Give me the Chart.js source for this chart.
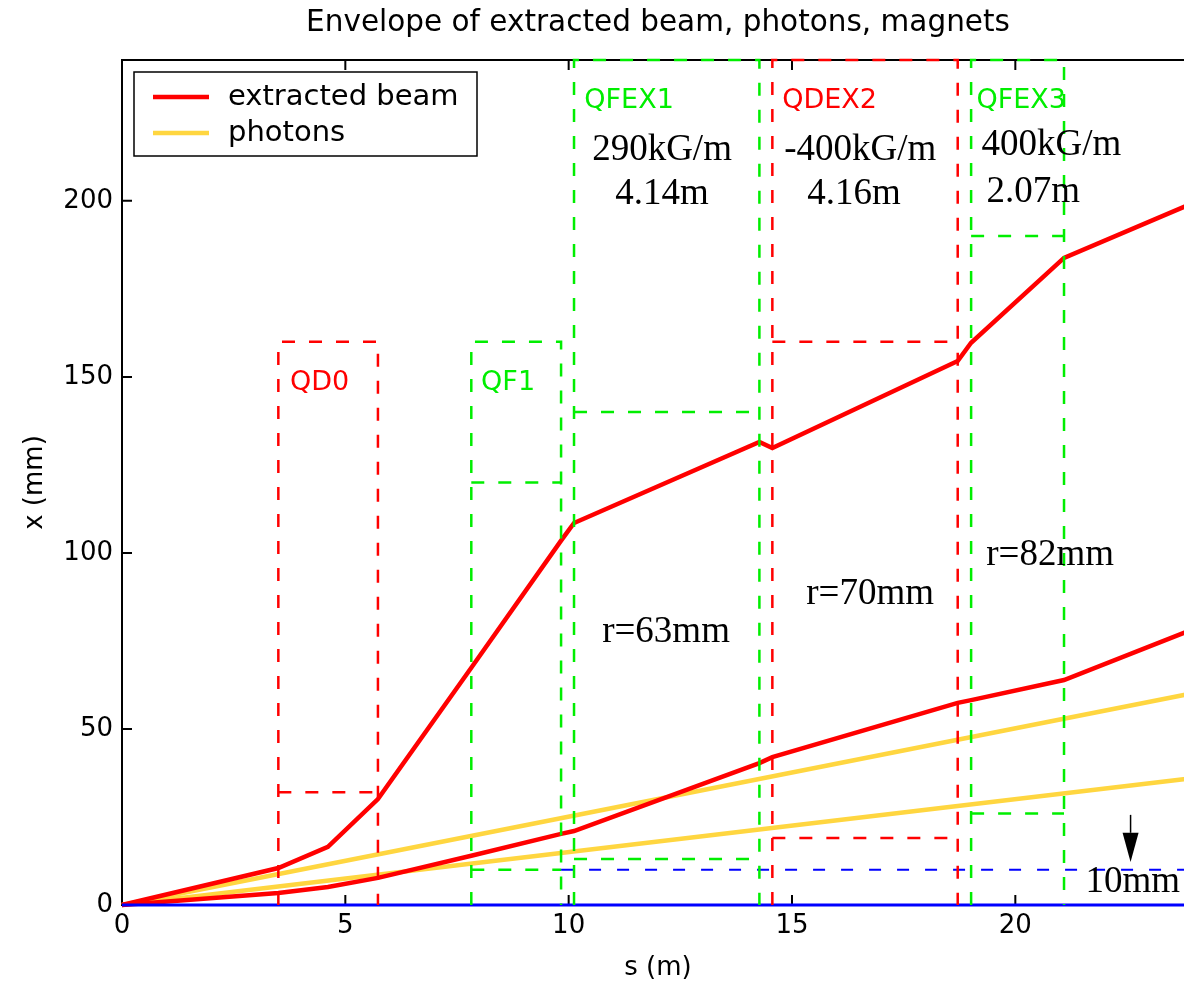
<!DOCTYPE html>
<html>
<head>
<meta charset="utf-8">
<script src="https://cdn.jsdelivr.net/npm/chart.js@4.4.0/dist/chart.umd.min.js"></script>
<style>
  html, body { margin: 0; padding: 0; overflow: hidden; background: #fff; }
  #wrap { width: 1184px; height: 988px; overflow: hidden; }
</style>
</head>
<body>
<div id="wrap"><canvas id="envelopeChart" width="1200" height="988"></canvas></div>
<script>
// beam envelope (s in m, x in mm)
const beamS     = [0, 3.5, 4.61, 5.73, 7.82, 9.83, 10.12, 14.27, 14.56, 18.71, 19.01, 21.09, 24];
const beamOuter = [0, 10.5, 16.5, 30.1, 67.4, 103.5, 108.5, 131.5, 129.8, 154.5, 159.7, 183.8, 199.5];
const beamInner = [0, 3.4, 5.1, 7.7, 14.0, 20.2, 21.0, 40.3, 42.0, 57.4, 58.2, 63.9, 78.4];

// photon fans
const photonS     = [0, 24];
const photonUpper = [0, 60.2];
const photonLower = [0, 36.1];

// magnets
const magNames    = ['QD0', 'QF1', 'QFEX1', 'QDEX2', 'QFEX3'];
const magStart    = [3.5, 7.82, 10.12, 14.56, 19.01];
const magEnd      = [5.73, 9.83, 14.27, 18.71, 21.09];
const magTop      = [160, 160, 240, 240, 240];
const magAperture = [[32], [120, 10], [140, 13.1], [160, 19], [190, 26]];
const magIsFocus  = [false, true, true, false, true];
const magLabelS   = [3.76, 8.04, 10.35, 14.78, 19.13];
const magLabelX   = [146.3, 146.3, 226.4, 226.4, 226.4];

// 10 mm reference
const refS = [9.83, 24];
const refX = [10, 10];

// annotations
const noteText = ['290kG/m', '4.14m', '-400kG/m', '4.16m', '400kG/m', '2.07m', 'r=63mm', 'r=70mm', 'r=82mm'];
const noteS    = [12.09, 12.09, 16.53, 16.39, 20.81, 20.40, 12.18, 16.75, 20.78];
const noteX    = [211.6, 199.1, 211.6, 199.1, 213.1, 199.7, 74.7, 85.5, 96.6];

const arrowS = 22.58, arrowFrom = 25.6, arrowHead = 20.5, arrowTo = 12.2;
const tenLabelS = 21.57, tenLabelX = 3.7;

const RED = '#ff0000', YELLOW = '#ffd640', GREEN = '#00ee00', BLUE = '#0000ff';
const SANS = 'DejaVu Sans', SERIF = 'Liberation Serif';

function pts(xs, ys) { return xs.map((v, i) => ({ x: v, y: ys[i] })); }

const datasets = [];
magNames.forEach((name, i) => {
  const col = magIsFocus[i] ? GREEN : RED;
  datasets.push({
    data: pts([magStart[i], magStart[i], magEnd[i], magEnd[i]], [0, magTop[i], magTop[i], 0]),
    borderColor: col, borderWidth: 2.5, borderDash: [13, 14], order: 0
  });
  magAperture[i].forEach(ap => {
    datasets.push({
      data: pts([magStart[i], magEnd[i]], [ap, ap]),
      borderColor: col, borderWidth: 2.5, borderDash: [13, 14], order: 0
    });
  });
});
datasets.push({ data: pts(refS, refX), borderColor: BLUE, borderWidth: 2, borderDash: [12, 16], order: 0 });
datasets.push({ label: 'extracted beam', data: pts(beamS, beamOuter), borderColor: RED, borderWidth: 4.5, order: 1 });
datasets.push({ data: pts(beamS, beamInner), borderColor: RED, borderWidth: 4.5, order: 1 });
datasets.push({ label: 'photons', data: pts(photonS, photonUpper), borderColor: YELLOW, borderWidth: 4.5, order: 2 });
datasets.push({ data: pts(photonS, photonLower), borderColor: YELLOW, borderWidth: 4.5, order: 2 });
datasets.push({ data: pts([0, 24], [0, 0]), borderColor: BLUE, borderWidth: 3, order: 0 });

datasets.forEach(d => { d.pointRadius = 0; d.fill = false; d.tension = 0; d.clip = false; });

const extrasPlugin = {
  id: 'extras',
  beforeDatasetsDraw(chart) {
    const { ctx, chartArea: a, scales: { x, y } } = chart;
    ctx.save();
    ctx.strokeStyle = '#000';
    ctx.lineWidth = 2;
    ctx.strokeRect(a.left, a.top, a.right - a.left, a.bottom - a.top);
    ctx.beginPath();
    x.ticks.forEach(t => {
      const px = x.getPixelForValue(t.value);
      ctx.moveTo(px, a.bottom); ctx.lineTo(px, a.bottom - 10);
      ctx.moveTo(px, a.top); ctx.lineTo(px, a.top + 10);
    });
    y.ticks.forEach(t => {
      const py = y.getPixelForValue(t.value);
      ctx.moveTo(a.left, py); ctx.lineTo(a.left + 10, py);
      ctx.moveTo(a.right, py); ctx.lineTo(a.right - 10, py);
    });
    ctx.stroke();
    ctx.restore();
  },
  afterDatasetsDraw(chart) {
    const { ctx, chartArea: a, scales: { x, y } } = chart;
    ctx.save();
    ctx.textBaseline = 'alphabetic';

    // magnet names
    ctx.font = '27px "' + SANS + '"';
    ctx.textAlign = 'left';
    magNames.forEach((n, i) => {
      ctx.fillStyle = magIsFocus[i] ? GREEN : RED;
      ctx.fillText(n, x.getPixelForValue(magLabelS[i]), y.getPixelForValue(magLabelX[i]));
    });

    // serif notes
    ctx.fillStyle = '#000';
    ctx.font = '37px "' + SERIF + '"';
    ctx.textAlign = 'center';
    noteText.forEach((t, i) => {
      ctx.fillText(t, x.getPixelForValue(noteS[i]), y.getPixelForValue(noteX[i]));
    });
    ctx.textAlign = 'left';
    ctx.fillText('10mm', x.getPixelForValue(tenLabelS), y.getPixelForValue(tenLabelX));

    // arrow
    const ax = x.getPixelForValue(arrowS);
    ctx.strokeStyle = '#000';
    ctx.lineWidth = 1.5;
    ctx.beginPath();
    ctx.moveTo(ax, y.getPixelForValue(arrowFrom));
    ctx.lineTo(ax, y.getPixelForValue(arrowHead));
    ctx.stroke();
    ctx.beginPath();
    ctx.moveTo(ax - 8, y.getPixelForValue(arrowHead));
    ctx.lineTo(ax + 8, y.getPixelForValue(arrowHead));
    ctx.lineTo(ax, y.getPixelForValue(arrowTo));
    ctx.closePath();
    ctx.fill();

    // legend
    const lx = a.left + 12, ly = a.top + 12;
    ctx.fillStyle = '#fff';
    ctx.fillRect(lx, ly, 343, 84);
    ctx.strokeStyle = '#000';
    ctx.lineWidth = 1.5;
    ctx.strokeRect(lx, ly, 343, 84);
    const items = chart.data.datasets.filter(d => d.label);
    ctx.font = '29px "' + SANS + '"';
    ctx.textBaseline = 'middle';
    items.forEach((d, i) => {
      const yy = ly + 25 + i * 36;
      ctx.strokeStyle = d.borderColor;
      ctx.lineWidth = d.borderWidth;
      ctx.beginPath();
      ctx.moveTo(lx + 19, yy); ctx.lineTo(lx + 75, yy);
      ctx.stroke();
      ctx.fillStyle = '#000';
      ctx.fillText(d.label, lx + 94, yy);
    });

    // title
    ctx.font = '29.5px "' + SANS + '"';
    ctx.textAlign = 'center';
    ctx.fillText('Envelope of extracted beam, photons, magnets', (a.left + a.right) / 2, 23);
    ctx.restore();
  }
};

const tickFont = { family: SANS, size: 26 };

new Chart(document.getElementById('envelopeChart').getContext('2d'), {
  type: 'line',
  data: { datasets: datasets },
  options: {
    responsive: false,
    animation: false,
    events: [],
    layout: { padding: { top: 60, right: 6, left: 0, bottom: 0 } },
    plugins: { legend: { display: false }, tooltip: { enabled: false }, title: { display: false } },
    scales: {
      x: {
        type: 'linear', min: 0, max: 24,
        grid: { display: false, drawTicks: false },
        border: { display: false },
        ticks: { stepSize: 5, includeBounds: false, padding: 6, color: '#000', font: tickFont, maxRotation: 0 },
        title: { display: true, text: 's (m)', color: '#000', font: tickFont, padding: { top: 0, bottom: 4 } },
        afterFit(scale) { scale.height = 83; }
      },
      y: {
        type: 'linear', min: 0, max: 240,
        grid: { display: false, drawTicks: false },
        border: { display: false },
        ticks: { stepSize: 50, includeBounds: false, padding: 9, color: '#000', font: tickFont },
        title: { display: true, text: 'x (mm)', color: '#000', font: tickFont, padding: { top: 20, bottom: 0 } },
        afterFit(scale) { scale.width = 122; }
      }
    }
  },
  plugins: [extrasPlugin]
});
</script>
</body>
</html>
